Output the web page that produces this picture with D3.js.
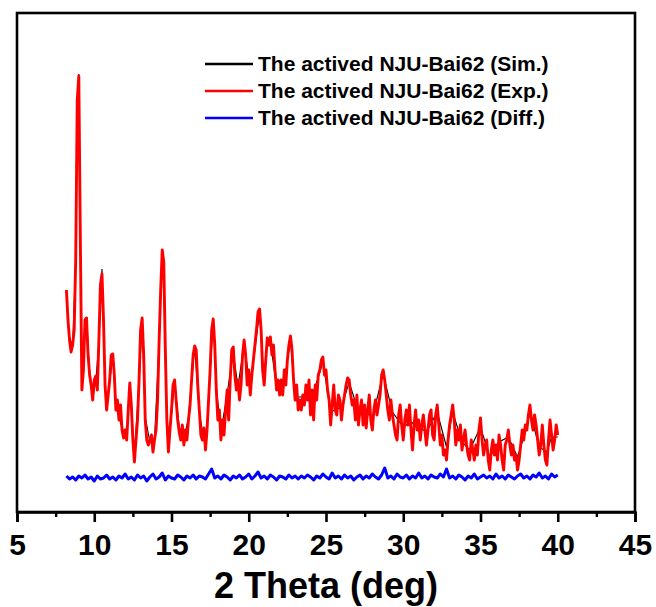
<!DOCTYPE html>
<html>
<head>
<meta charset="utf-8">
<script src="https://cdn.jsdelivr.net/npm/d3@7"></script>
<style>
    body { margin: 0; background: #fff; }
    text { font-family: "Liberation Sans", Arial, sans-serif; font-weight: bold; }
</style>
</head>
<body>
<div class="visualization"></div>
<script>
// 2 theta grid of the measured pattern
const expStart = 8.2;
const expStep = 0.1;
// measured (Exp.) intensity, a.u., one value per 0.1 deg from 8.2 to 40.0
const expCounts = [
    222, 192, 172, 160, 167, 182, 252, 412, 436, 272,
    122, 142, 192, 194, 157, 137, 127, 112, 132, 136,
    122, 172, 227, 238, 192, 127, 102, 117, 132, 157,
    158, 137, 102, 112, 92, 107, 82, 74, 82, 72,
    102, 129, 107, 72, 50, 72, 92, 132, 182, 194,
    157, 92, 72, 67, 72, 77, 60, 72, 82, 112,
    172, 222, 262, 250, 162, 92, 60, 82, 102, 127,
    132, 112, 92, 80, 72, 87, 67, 82, 72, 92,
    107, 132, 157, 166, 162, 127, 102, 77, 72, 84,
    62, 82, 112, 142, 182, 193, 167, 122, 92, 102,
    72, 92, 77, 102, 122, 92, 132, 162, 165, 137,
    122, 132, 112, 127, 157, 172, 157, 127, 142, 117,
    137, 152, 167, 182, 200, 203, 182, 142, 127, 152,
    174, 167, 175, 157, 167, 142, 122, 132, 117, 132,
    117, 142, 127, 152, 167, 176, 162, 132, 112, 127,
    102, 112, 102, 117, 107, 127, 112, 132, 97, 122,
    92, 127, 112, 137, 142, 152, 155, 137, 142, 122,
    112, 87, 107, 127, 102, 97, 117, 112, 92, 107,
    117, 127, 134, 132, 117, 107, 112, 92, 117, 87,
    102, 112, 87, 107, 84, 102, 117, 92, 82, 102,
    112, 97, 107, 117, 137, 142, 132, 117, 102, 92,
    112, 97, 87, 77, 72, 97, 107, 87, 72, 92,
    102, 87, 107, 82, 62, 87, 102, 82, 92, 72,
    87, 97, 82, 67, 82, 97, 102, 77, 72, 97,
    107, 87, 67, 77, 57, 62, 52, 72, 87, 97,
    107, 92, 67, 82, 72, 87, 62, 72, 82, 67,
    57, 52, 72, 62, 52, 67, 57, 82, 94, 72,
    57, 67, 72, 52, 42, 62, 72, 57, 67, 52,
    77, 67, 52, 42, 67, 72, 82, 67, 57, 67,
    52, 57, 42, 52, 67, 82, 72, 87, 82, 97,
    107, 92, 82, 97, 87, 72, 57, 67, 87, 67,
    52, 47, 72, 92, 77, 62, 72, 87, 77
];

// simulated (Sim.) pattern
const simTheta = [8.2, 8.4, 8.6, 8.8, 8.9, 9.0, 9.1, 9.2, 9.4, 9.5, 9.7, 9.9, 10.1, 10.3, 10.5, 10.7, 10.8, 11.0, 11.2, 11.4,
    11.6, 11.9, 12.1, 12.3, 12.6, 12.9, 13.1, 13.3, 13.6, 13.9, 14.2, 14.4, 14.5, 14.7, 14.8, 15.2, 15.5, 15.8, 16.1, 16.5,
    16.8, 17.1, 17.3, 17.7, 17.9, 18.2, 18.6, 19.0, 19.3, 19.7, 20.1, 20.7, 21.0, 21.2, 21.4, 21.8, 22.2, 22.7, 23.0, 23.5,
    24.0, 24.8, 25.3, 26.0, 26.5, 27.0, 27.5, 28.0, 28.7, 29.3, 30.0, 30.5, 31.0, 31.5, 32.2, 32.8, 33.2, 33.8, 34.3, 35.0,
    35.6, 36.2, 36.8, 37.4, 37.9, 38.2, 38.8, 39.3, 39.6, 40.0];
const simCounts = [212, 175, 165, 250, 410, 438, 270, 125, 190, 192, 140, 115, 130, 170, 243, 128, 105, 130, 156, 105,
    95, 78, 80, 127, 58, 130, 192, 95, 70, 72, 170, 260, 250, 95, 65, 130, 85, 72, 95, 165,
    100, 72, 85, 192, 125, 80, 118, 160, 125, 168, 125, 200, 130, 170, 170, 125, 120, 172, 115, 115,
    110, 150, 100, 105, 130, 105, 100, 95, 138, 100, 85, 90, 85, 80, 100, 65, 100, 70, 62, 85,
    55, 70, 75, 55, 80, 100, 65, 60, 75, 75];

// difference curve, one value per 0.2 deg from 8.2 to 40.0
const diffStep = 0.2;
const diffCounts = [
    36, 33, 35, 32, 36, 34, 37, 33, 35, 31,
    36, 33, 34, 37, 33, 35, 32, 36, 34, 38,
    33, 35, 32, 37, 34, 36, 31, 35, 38, 33,
    35, 39, 32, 36, 34, 33, 37, 35, 32, 36,
    34, 37, 33, 36, 35, 33, 38, 43, 34, 36,
    33, 37, 35, 32, 36, 34, 37, 33, 35, 38,
    33, 36, 40, 34, 36, 33, 37, 35, 32, 36,
    35, 33, 37, 34, 36, 33, 36, 34, 37, 35,
    32, 36, 34, 38, 35, 33, 39, 34, 36, 33,
    37, 34, 36, 32, 35, 37, 33, 36, 34, 38,
    35, 33, 37, 44, 34, 36, 33, 38, 35, 34,
    37, 33, 36, 34, 39, 34, 36, 33, 37, 35,
    34, 38, 35, 43, 34, 36, 33, 37, 35, 32,
    36, 34, 38, 33, 35, 37, 34, 36, 33, 38,
    34, 36, 33, 37, 35, 33, 36, 38, 34, 36,
    33, 37, 35, 39, 34, 36, 33, 38, 35, 37
];

const seriesNames = ['The actived NJU-Bai62 (Sim.)', 'The actived NJU-Bai62 (Exp.)', 'The actived NJU-Bai62 (Diff.)'];
const seriesColors = ['#000000', '#ff0000', '#0000ff'];
const xTicks = [5, 10, 15, 20, 25, 30, 35, 40, 45];
const xMinorTicks = [7.5, 12.5, 17.5, 22.5, 27.5, 32.5, 37.5, 42.5];

const width = 656;
const height = 607;
const margin = { top: 13, right: 21, bottom: 95, left: 17 };

let svg = d3.select('.visualization')
    .append('svg')
    .attr('width', width)
    .attr('height', height);

const xScale = d3.scaleLinear()
    .domain([5, 45])
    .range([margin.left, width - margin.right]);

const yScale = d3.scaleLinear()
    .domain([0, 500])
    .range([height - margin.bottom, margin.top - 1]);

let expData = expCounts.map((v, i) => ({ x: expStart + i * expStep, y: v }));
let simData = simTheta.map((t, i) => ({ x: t, y: simCounts[i] }));
let diffData = diffCounts.map((v, i) => ({ x: expStart + i * diffStep, y: v }));

const line = d3.line()
    .x(d => xScale(d.x))
    .y(d => yScale(d.y));

svg.append('path')
    .datum(simData)
    .attr('d', line)
    .attr('fill', 'none')
    .attr('stroke', seriesColors[0])
    .attr('stroke-width', 1.1);

svg.append('path')
    .datum(expData)
    .attr('d', line)
    .attr('fill', 'none')
    .attr('stroke', seriesColors[1])
    .attr('stroke-width', 2.9)
    .attr('stroke-linejoin', 'round');

svg.append('path')
    .datum(diffData)
    .attr('d', line)
    .attr('fill', 'none')
    .attr('stroke', seriesColors[2])
    .attr('stroke-width', 3)
    .attr('stroke-linejoin', 'round');

// frame
svg.append('rect')
    .attr('x', xScale(5))
    .attr('y', margin.top)
    .attr('width', xScale(45) - xScale(5))
    .attr('height', height - margin.bottom - margin.top)
    .attr('fill', 'none')
    .attr('stroke', '#000')
    .attr('stroke-width', 2.6);

// bottom axis, major and minor ticks
let axisY = height - margin.bottom;

let minorAxis = svg.append('g')
    .attr('transform', `translate(0,${axisY})`)
    .call(d3.axisBottom(xScale).tickValues(xMinorTicks).tickSize(5).tickFormat(''));
minorAxis.select('.domain').remove();
minorAxis.selectAll('line').attr('stroke-width', 2.4);

let majorAxis = svg.append('g')
    .attr('transform', `translate(0,${axisY})`)
    .call(d3.axisBottom(xScale).tickValues(xTicks).tickSize(10).tickPadding(12).tickFormat(d3.format('d')));
majorAxis.select('.domain').attr('stroke-width', 2.6);
majorAxis.selectAll('line').attr('stroke-width', 2.6);
majorAxis.selectAll('text')
    .attr('font-size', 30)
    .attr('font-weight', 'bold')
    .attr('fill', '#000');

svg.append('text')
    .text('2 Theta (deg)')
    .attr('x', (xScale(5) + xScale(45)) / 2)
    .attr('y', 598)
    .attr('text-anchor', 'middle')
    .attr('font-size', 36)
    .attr('fill', '#000');

// legend
let legend = svg.append('g');
seriesNames.forEach(function (name, i) {
    let ly = 64 + i * 27;
    legend.append('line')
        .attr('x1', 205)
        .attr('x2', 253)
        .attr('y1', ly)
        .attr('y2', ly)
        .attr('stroke', seriesColors[i])
        .attr('stroke-width', 2.4);
    legend.append('text')
        .text(name)
        .attr('x', 258)
        .attr('y', ly + 7)
        .attr('font-size', 21)
        .attr('fill', '#000');
});
</script>
</body>
</html>
